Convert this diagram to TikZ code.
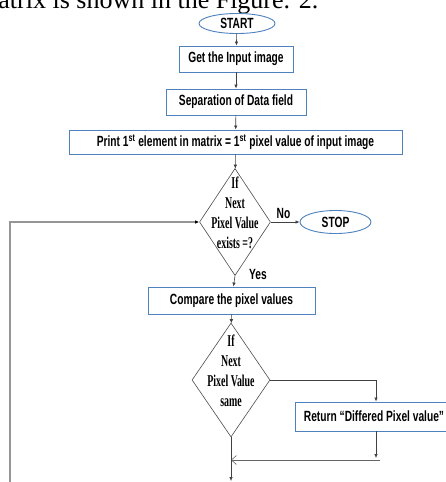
\documentclass[tikz,border=0pt]{standalone}
\usepackage{fontspec}
\setmainfont{Liberation Serif}
\newfontfamily\boxfont[FakeStretch=0.69]{Liberation Sans}
\newfontfamily\diafont[FakeStretch=0.6]{Liberation Serif}
\usetikzlibrary{shapes.geometric,arrows.meta}
\definecolor{boxblue}{RGB}{79,129,189}
\definecolor{loopgray}{RGB}{150,150,150}
\tikzset{
    box/.style={draw=boxblue,line width=0.9pt,fill=white,inner sep=0pt,
        font=\boxfont\bfseries\fontsize{14.8}{17}\selectfont},
    term/.style={ellipse,draw=boxblue,line width=0.9pt,inner sep=0pt,
        font=\boxfont\bfseries\fontsize{14.8}{17}\selectfont},
    decision/.style={diamond,draw=black!70,line width=0.6pt,inner sep=0pt,
        font=\diafont\bfseries\fontsize{16.5}{20}\selectfont},
    lbl/.style={inner sep=0pt,font=\boxfont\bfseries\fontsize{14.8}{17}\selectfont},
    flow/.style={draw=black!75,line width=0.6pt,-{Latex[length=4pt,width=3.5pt]}},
    loopline/.style={draw=loopgray,line width=1.6pt,-{Latex[length=4pt,width=3.5pt,black]}},
    back/.style={draw=black!60,line width=0.6pt,-{Straight Barb[length=5pt,width=9pt]}}
}
\newcommand{\diatext}[2]{\makebox[0pt]{\raisebox{#1}{\smash{\begin{tabular}{@{}c@{}}#2\end{tabular}}}}}
\begin{document}
\begin{tikzpicture}[x=1pt,y=-1pt]
    \useasboundingbox (0,0) rectangle (446,482);
    \node[anchor=base west,inner sep=0pt,font=\fontsize{26}{30}\selectfont] (hdr) at (-22,8) {matrix is shown in the Figure. 2.};

    \node[term,minimum width=76pt,minimum height=20pt] (start) at (237,23.5) {START};
    \node[box,minimum width=114pt,minimum height=26pt] (get) at (236,59) {Get the Input image};
    \node[box,minimum width=140pt,minimum height=26pt] (sep) at (236,102) {Separation of Data field};
    \node[box,minimum width=333pt,minimum height=24pt] (print) at (235.5,142)
        {Print 1\textsuperscript{st} element in matrix = 1\textsuperscript{st} pixel value of input image};
    \node[decision,minimum width=71pt,minimum height=107pt] (dec1) at (235,222)
        {\diatext{6pt}{If\\Next\\Pixel Value\\exists =?}};
    \node[term,minimum width=71pt,minimum height=23pt] (stop) at (335.5,222) {STOP};
    \node[box,minimum width=167pt,minimum height=27pt] (cmp) at (231.5,300.5) {Compare the pixel values};
    \node[decision,minimum width=78pt,minimum height=114pt] (dec2) at (231,380)
        {\diatext{7pt}{If\\Next\\Pixel Value\\same}};
    \node[box,minimum width=158pt,minimum height=29pt] (ret) at (374,416.5) {Return “Differed Pixel value”};

    \node[lbl] (no) at (283.5,213.5) {No};
    \node[lbl] (yes) at (258,274) {Yes};

    \coordinate (rb) at (376,458);
    \coordinate (mj) at (231,460);
    \coordinate (rj) at (380,460);
    \coordinate (dn) at (231,481);
    \coordinate (lp) at (10,490);

    \draw[flow] (start) -- (get);
    \draw[flow] (get) -- (sep);
    \draw[flow] (sep) -- (print);
    \draw[flow] (print) -- (dec1);
    \draw[flow] (dec1.east) -- (stop.west);
    \draw[flow] (dec1.south) -- (cmp);
    \draw[flow] (cmp) -- (dec2);
    \draw[flow] (dec2.east) -| ([xshift=2pt]ret.north);
    \draw[flow] ([xshift=2pt]ret.south) -- (rb);
    \draw[back] (rj) -- (mj);
    \draw[flow] (dec2.south) -- (dn);
    \draw[loopline] (lp) |- (dec1.west);
\end{tikzpicture}
\end{document}
